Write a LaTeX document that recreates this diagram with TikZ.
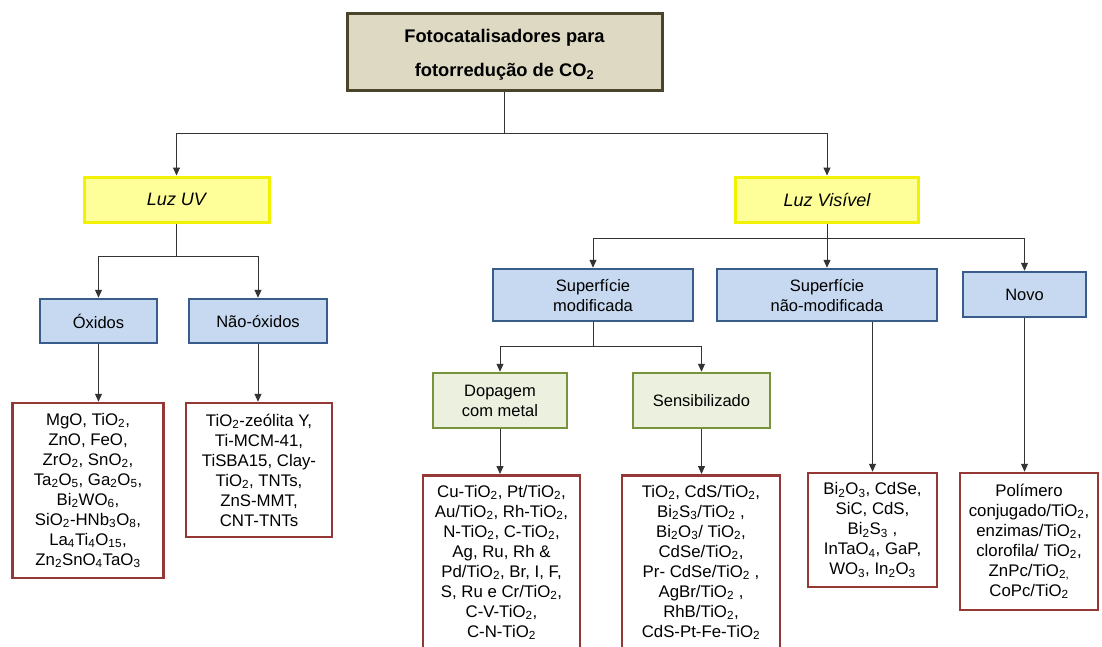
\documentclass[tikz,border=0pt]{standalone}
\usepackage{fontspec}
\setmainfont{Liberation Sans}
\usetikzlibrary{arrows.meta}
\definecolor{tanfill}{HTML}{DDD9C3}
\definecolor{tanline}{HTML}{4A452A}
\definecolor{yelfill}{HTML}{FFFF99}
\definecolor{yelline}{HTML}{F2F200}
\definecolor{bluefill}{HTML}{C6D9F1}
\definecolor{blueline}{HTML}{385D8A}
\definecolor{grnfill}{HTML}{EBF1DE}
\definecolor{grnline}{HTML}{77933C}
\definecolor{redline}{HTML}{953735}
\newcommand{\sbs}[1]{\textsubscript{#1}}
\tikzset{
  box/.style={draw, align=center, inner sep=0pt},
  titlebox/.style={box, fill=tanfill, draw=tanline, line width=3pt, minimum width=315pt, minimum height=77pt},
  titletext/.style={align=center, inner sep=0pt, font=\fontsize{18.3}{34}\selectfont\bfseries},
  luz/.style={box, fill=yelfill, draw=yelline, line width=3pt, minimum height=45pt, font=\fontsize{18}{20}\selectfont\itshape},
  cat/.style={box, fill=bluefill, draw=blueline, line width=2.5pt, font=\fontsize{16.5}{20}\selectfont},
  subcat/.style={box, fill=grnfill, draw=grnline, line width=2.5pt, minimum height=55pt, font=\fontsize{16.5}{20}\selectfont},
  listbox/.style={box, fill=white, draw=redline, line width=2.5pt, font=\fontsize{16.8}{20}\selectfont},
  listtext/.style={align=center, inner sep=0pt, font=\fontsize{16.8}{20}\selectfont},
  conn/.style={draw=black!80, line width=1pt},
  arr/.style={conn, -{Triangle[width=7pt,length=8pt]}}
}
\begin{document}
\begin{tikzpicture}[x=1pt,y=-1pt]
\useasboundingbox (0,0) rectangle (1102,646);
% title
\node[titlebox] (top) at (504.5,51.5) {};
\node[titletext] (toptext) at (504.5,55) {Fotocatalisadores para\\fotorredução de CO\sbs{2}};
% light
\node[luz, minimum width=185pt] (uv) at (176.5,199.5) {Luz UV};
\node[luz, minimum width=183pt] (vis) at (827,199.5) {Luz Visível};
% UV categories
\node[cat, minimum width=117pt, minimum height=44pt] (ox) at (98.5,321) {Óxidos};
\node[cat, minimum width=138pt, minimum height=44pt] (nox) at (258,321) {Não-óxidos};
% visible categories
\node[cat, minimum width=200pt, minimum height=52pt] (smod) at (593,295) {Superfície\\modificada};
\node[cat, minimum width=220pt, minimum height=52pt] (snmod) at (827,295) {Superfície\\não-modificada};
\node[cat, minimum width=123pt, minimum height=45pt] (novo) at (1024.5,294.5) {Novo};
% sub categories
\node[subcat, minimum width=134pt] (dop) at (500,400.5) {Dopagem\\com metal};
\node[subcat, minimum width=137pt] (sens) at (701.5,400.5) {Sensibilizado};
% lists
\node[listbox, minimum width=151pt, minimum height=175pt] (l1) at (88,490.5) {MgO, TiO\sbs{2},\\ ZnO, FeO,\\ ZrO\sbs{2}, SnO\sbs{2},\\ Ta\sbs{2}O\sbs{5}, Ga\sbs{2}O\sbs{5},\\ Bi\sbs{2}WO\sbs{6},\\ SiO\sbs{2}-HNb\sbs{3}O\sbs{8},\\ La\sbs{4}Ti\sbs{4}O\sbs{15},\\ Zn\sbs{2}SnO\sbs{4}TaO\sbs{3}};
\node[listbox, minimum width=146pt, minimum height=134pt] (l2) at (259,470) {TiO\sbs{2}-zeólita Y,\\ Ti-MCM-41,\\ TiSBA15, Clay-\\ TiO\sbs{2}, TNTs,\\ ZnS-MMT,\\ CNT-TNTs};
\node[listbox, minimum width=157pt, minimum height=195pt, anchor=north] (l3) at (501.5,474) {};
\node[listtext, anchor=north] (t3) at (501.5,485) {Cu-TiO\sbs{2}, Pt/TiO\sbs{2},\\ Au/TiO\sbs{2}, Rh-TiO\sbs{2},\\ N-TiO\sbs{2}, C-TiO\sbs{2},\\ Ag, Ru, Rh \&\\ Pd/TiO\sbs{2}, Br, I, F,\\ S, Ru e Cr/TiO\sbs{2},\\ C-V-TiO\sbs{2},\\ C-N-TiO\sbs{2}};
\node[listbox, minimum width=158pt, minimum height=195pt, anchor=north] (l4) at (701,474) {};
\node[listtext, anchor=north] (t4) at (701,485) {TiO\sbs{2}, CdS/TiO\sbs{2},\\ Bi\sbs{2}S\sbs{3}/TiO\sbs{2} ,\\ Bi\sbs{2}O\sbs{3}/ TiO\sbs{2},\\ CdSe/TiO\sbs{2},\\ Pr- CdSe/TiO\sbs{2} ,\\ AgBr/TiO\sbs{2} ,\\ RhB/TiO\sbs{2},\\ CdS-Pt-Fe-TiO\sbs{2}};
\node[listbox, minimum width=129pt, minimum height=114pt] (l5) at (872.5,530) {Bi\sbs{2}O\sbs{3}, CdSe,\\ SiC, CdS,\\ Bi\sbs{2}S\sbs{3} ,\\ InTaO\sbs{4}, GaP,\\ WO\sbs{3}, In\sbs{2}O\sbs{3}};
\node[listbox, minimum width=138pt, minimum height=137pt] (l6) at (1029,541.5) {Polímero\\ conjugado/TiO\sbs{2},\\ enzimas/TiO\sbs{2},\\ clorofila/ TiO\sbs{2},\\ ZnPc/TiO\sbs{2,}\\ CoPc/TiO\sbs{2}};
% junctions
\coordinate (j0) at (504.5,133);
\coordinate (j1) at (176.5,256);
\coordinate (j2) at (827,238);
\coordinate (j3) at (593,346);
% connectors
\draw[conn] (top.south) -- (j0);
\draw[arr] (j0) -| (uv.north);
\draw[arr] (j0) -| (vis.north);
\draw[conn] (uv.south) -- (j1);
\draw[arr] (j1) -| (ox.north);
\draw[arr] (j1) -| (nox.north);
\draw[conn] (vis.south) -- (j2);
\draw[arr] (j2) -| (smod.north);
\draw[arr] (j2) -- (snmod.north);
\draw[arr] (j2) -| (novo.north);
\draw[conn] (smod.south) -- (j3);
\draw[arr] (j3) -| (dop.north);
\draw[arr] (j3) -| (sens.north);
\draw[arr] (ox.south) -- (ox.south |- l1.north);
\draw[arr] (nox.south) -- (nox.south |- l2.north);
\draw[arr] (dop.south) -- (dop.south |- l3.north);
\draw[arr] (sens.south) -- (sens.south |- l4.north);
\draw[arr] (l5.north |- snmod.south) -- (l5.north);
\draw[arr] (novo.south) -- (novo.south |- l6.north);
\end{tikzpicture}
\end{document}
